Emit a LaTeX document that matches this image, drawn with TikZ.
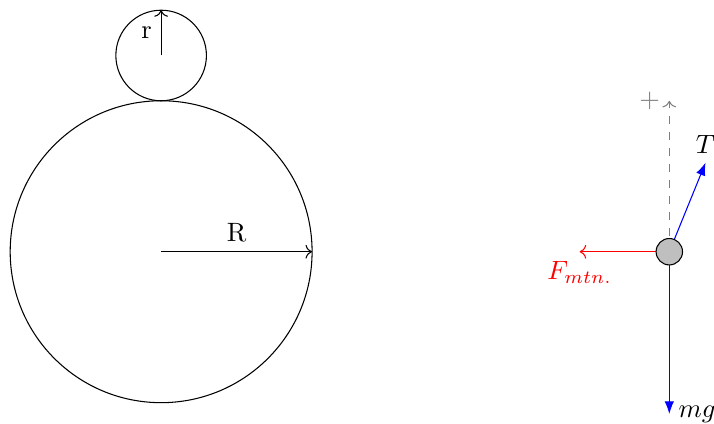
\documentclass[tikz,border=0pt]{standalone}
\usepackage{tikz}
\usetikzlibrary{arrows.meta,positioning,calc}

\begin{document}
\begin{tikzpicture}[
    radarr/.style={->},
    force/.style={-{Latex}, draw=blue},
    friction/.style={->, red},
    axis/.style={->, dashed, gray},
    ballnode/.style={circle, draw, fill=gray!50, minimum size=0.35cm, inner sep=0pt}
  ]
    \useasboundingbox (-2.135,-2.28) rectangle (7.325,3.335);

    % Wheel and small wheel
    \coordinate (O) at (0,0);
    \coordinate (Rend) at (2,0);
    \coordinate (o) at (0,2.6);
    \coordinate (rend) at (0,3.2);
    \draw (O) circle (2cm);
    \draw (o) circle (0.6cm);
    \draw[radarr] (O) -- node[above] (Rlbl) {R} (Rend);
    \draw[radarr] (o) -- node[left] (rlbl) {r} (rend);

    % Free body diagram
    \coordinate (m) at (6.733,0);
    \coordinate (up) at ($(m)+(0,2)$);
    \coordinate (tension) at ($(m)+(0.48,1.18)$);
    \coordinate (weight) at ($(m)+(0,-2.15)$);
    \coordinate (fric) at (5.545,0);
    \draw[axis] (m) -- (up) node[left] (plus) {$+$};
    \draw[force] (m) -- (tension) node[above] (Tlbl) {$T$};
    \draw[force] (m) -- (weight) node[right] (mglbl) {$mg$};
    \draw[friction] (m) -- (fric) node[below] (Flbl) {$F_{mtn.}$};
    \node[ballnode] (ball) at (m) {};
\end{tikzpicture}
\end{document}
